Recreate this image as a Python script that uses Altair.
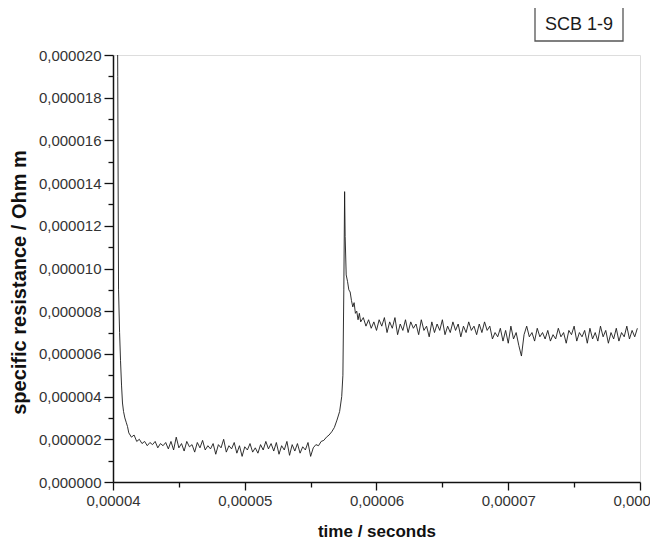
import altair as alt
import pandas as pd

# time in microseconds
time_us = [
    40.0, 40.3, 40.36, 40.42, 40.5, 40.57, 40.65, 40.72, 40.8, 40.9, 41.0, 41.1,
    41.2, 41.4, 41.6, 41.8, 42.0, 42.2, 42.4, 42.6, 42.8, 43.0, 43.2, 43.4, 43.6, 43.8,
    44.0, 44.2, 44.4, 44.6, 44.8, 45.0, 45.2, 45.4, 45.6, 45.8, 46.0, 46.2, 46.4, 46.6,
    46.8, 47.0, 47.2, 47.4, 47.6, 47.8, 48.0, 48.2, 48.4, 48.6, 48.8, 49.0, 49.2, 49.4,
    49.6, 49.8, 50.0, 50.2, 50.4, 50.6, 50.8, 51.0, 51.2, 51.4, 51.6, 51.8, 52.0, 52.2,
    52.4, 52.6, 52.8, 53.0, 53.2, 53.4, 53.6, 53.8, 54.0, 54.2, 54.4, 54.6, 54.8, 55.0,
    55.2, 55.4, 55.6, 55.8, 56.0, 56.2, 56.4, 56.6, 56.8, 57.0, 57.2, 57.36, 57.45, 57.52,
    57.58, 57.62, 57.7, 57.8, 57.9, 58.0, 58.1, 58.2, 58.3, 58.4, 58.5, 58.6, 58.7, 58.8,
    59.0, 59.2, 59.4, 59.6, 59.8, 60.0, 60.2, 60.4, 60.6, 60.8, 61.0, 61.2, 61.4, 61.6,
    61.8, 62.0, 62.2, 62.4, 62.6, 62.8, 63.0, 63.2, 63.4, 63.6, 63.8, 64.0, 64.2, 64.4,
    64.6, 64.8, 65.0, 65.2, 65.4, 65.6, 65.8, 66.0, 66.2, 66.4, 66.6, 66.8, 67.0, 67.2,
    67.4, 67.6, 67.8, 68.0, 68.2, 68.4, 68.6, 68.8, 69.0, 69.2, 69.4, 69.6, 69.8, 70.0,
    70.2, 70.4, 70.6, 70.8, 71.0, 71.2, 71.4, 71.6, 71.8, 72.0, 72.2, 72.4, 72.6, 72.8,
    73.0, 73.2, 73.4, 73.6, 73.8, 74.0, 74.2, 74.4, 74.6, 74.8, 75.0, 75.2, 75.4, 75.6,
    75.8, 76.0, 76.2, 76.4, 76.6, 76.8, 77.0, 77.2, 77.4, 77.6, 77.8, 78.0, 78.2, 78.4,
    78.6, 78.8, 79.0, 79.2, 79.4, 79.6, 79.8,
]

# specific resistance in micro-Ohm m
rho_u = [
    35.0, 28.0, 19.0, 9.0, 7.0, 5.7, 4.5, 3.7, 3.3, 3.0, 2.8, 2.6,
    2.3, 2.1, 2.2, 1.9, 2.0, 1.8, 1.9, 1.7, 1.85, 1.75, 1.9, 1.6, 1.8, 1.7,
    1.85, 1.55, 1.9, 1.5, 2.1, 1.6, 1.8, 1.45, 1.9, 1.65, 1.75, 1.4, 1.85, 1.6,
    1.95, 1.5, 1.7, 1.55, 1.8, 1.3, 1.75, 1.6, 2.0, 1.4, 1.7, 1.55, 1.85, 1.35,
    1.7, 1.2, 1.65, 1.5, 1.8, 1.4, 1.6, 1.35, 1.75, 1.5, 1.9, 1.55, 1.8, 1.45,
    1.85, 1.3, 1.7, 1.5, 1.9, 1.25, 1.75, 1.45, 1.8, 1.35, 1.65, 1.5, 1.85, 1.2,
    1.6, 1.75, 1.7, 1.9, 1.95, 2.1, 2.2, 2.35, 2.55, 2.9, 3.3, 4.0, 5.0, 9.0,
    13.6, 11.5, 9.7, 9.4, 9.0, 8.9, 8.5, 8.2, 8.4, 7.9, 8.0, 7.6, 7.9, 7.5,
    7.7, 7.3, 7.6, 7.2, 7.5, 7.1, 7.6, 7.3, 7.7, 7.0, 7.5, 7.2, 7.7, 6.9,
    7.4, 7.1, 7.6, 7.0, 7.5, 7.2, 7.4, 6.9, 7.6, 7.1, 7.3, 6.8, 7.5, 7.0,
    7.4, 7.1, 7.6, 6.9, 7.3, 7.0, 7.5, 7.1, 7.4, 6.8, 7.3, 7.0, 7.5, 7.1,
    7.3, 6.9, 7.4, 7.0, 7.5, 7.1, 7.3, 6.7, 7.0, 6.8, 7.2, 6.6, 7.1, 6.5,
    7.3, 6.7, 7.0, 6.4, 5.9, 6.9, 7.3, 6.8, 7.0, 6.6, 7.2, 6.8, 7.0, 6.7,
    7.1, 6.6, 6.9, 6.7, 7.2, 6.8, 7.0, 6.5, 7.1, 6.9, 7.3, 6.6, 7.0, 6.8,
    7.1, 6.5, 7.2, 6.7, 7.0, 6.6, 7.3, 6.8, 7.1, 6.5, 7.0, 6.7, 7.2, 6.6,
    7.0, 6.8, 7.3, 6.7, 7.1, 6.8, 7.2,
]

y_ticks_u = list(range(0, 21))          # micro-Ohm m, every 1 (labels every 2)
x_ticks_u = [40, 45, 50, 55, 60, 65, 70, 75, 80]  # microseconds (labels every 10)
label_text = ["SCB 1-9"]

df = pd.DataFrame({
    "t": [v / 1e6 for v in time_us],
    "rho": [v / 1e6 for v in rho_u],
})

FONT = "Liberation Sans"

x_axis = alt.Axis(
    values=[v / 1e6 for v in x_ticks_u],
    labelExpr="round(datum.value*1e6) % 10 == 0 ? replace(format(datum.value, '.5f'), '.', ',') : ''",
    tickSize={"condition": {"test": "round(datum.value*1e6) % 10 == 0", "value": 8}, "value": 5},
    grid=False,
    labelOverlap=False,
    labelFlush=False,
    labelBound=False,
    labelFontSize=15,
    labelColor="#333333",
    labelFont=FONT,
    labelPadding=3,
    title="time / seconds",
    titleFont=FONT,
    titleFontSize=17,
    titleFontWeight="bold",
    titleColor="#111111",
    titlePadding=15,
    domainColor="#111111",
    domainWidth=1.5,
    tickColor="#111111",
    tickWidth=1.3,
)

y_axis = alt.Axis(
    values=[v / 1e6 for v in y_ticks_u],
    labelExpr="round(datum.value*1e6) % 2 == 0 ? replace(format(datum.value, '.6f'), '.', ',') : ''",
    tickSize={"condition": {"test": "round(datum.value*1e6) % 2 == 0", "value": 9}, "value": 5},
    grid=False,
    labelOverlap=False,
    labelFlush=False,
    labelBound=False,
    labelFontSize=15,
    labelColor="#333333",
    labelFont=FONT,
    labelPadding=3,
    title="specific resistance / Ohm m",
    titleFont=FONT,
    titleFontSize=20,
    titleFontWeight="bold",
    titleColor="#111111",
    titleAngle=270,
    titleAlign="center",
    titleBaseline="middle",
    titleX=-94,
    titleY=227,
    domainColor="#111111",
    domainWidth=1.5,
    tickColor="#111111",
    tickWidth=1.3,
)

line = alt.Chart(df).mark_line(color="#1a1a1a", strokeWidth=0.9, clip=True).encode(
    x=alt.X("t:Q", scale=alt.Scale(domain=[4e-5, 8e-5], nice=False, zero=False), axis=x_axis),
    y=alt.Y("rho:Q", scale=alt.Scale(domain=[0, 2e-5], nice=False), axis=y_axis),
)

lab_df = pd.DataFrame({"label": label_text})
box = alt.Chart(lab_df).mark_rect(
    fill="white", stroke="#555555", strokeWidth=1.3
).encode(
    x=alt.value(422), x2=alt.value(510), y=alt.value(-48), y2=alt.value(-14)
)
txt = alt.Chart(lab_df).mark_text(
    font=FONT, fontSize=18, color="#1a1a1a", align="center", baseline="middle"
).encode(
    text="label:N", x=alt.value(466), y=alt.value(-30)
)

chart = alt.layer(line, box, txt).properties(
    width=527,
    height=427,
    autosize=alt.AutoSizeParams(type="none"),
    padding={"left": 105, "top": 47, "right": 10, "bottom": 62},
).configure_view(stroke=None).configure(background="white")

chart.save("out.html", embed_options={"renderer": "svg", "actions": False})
